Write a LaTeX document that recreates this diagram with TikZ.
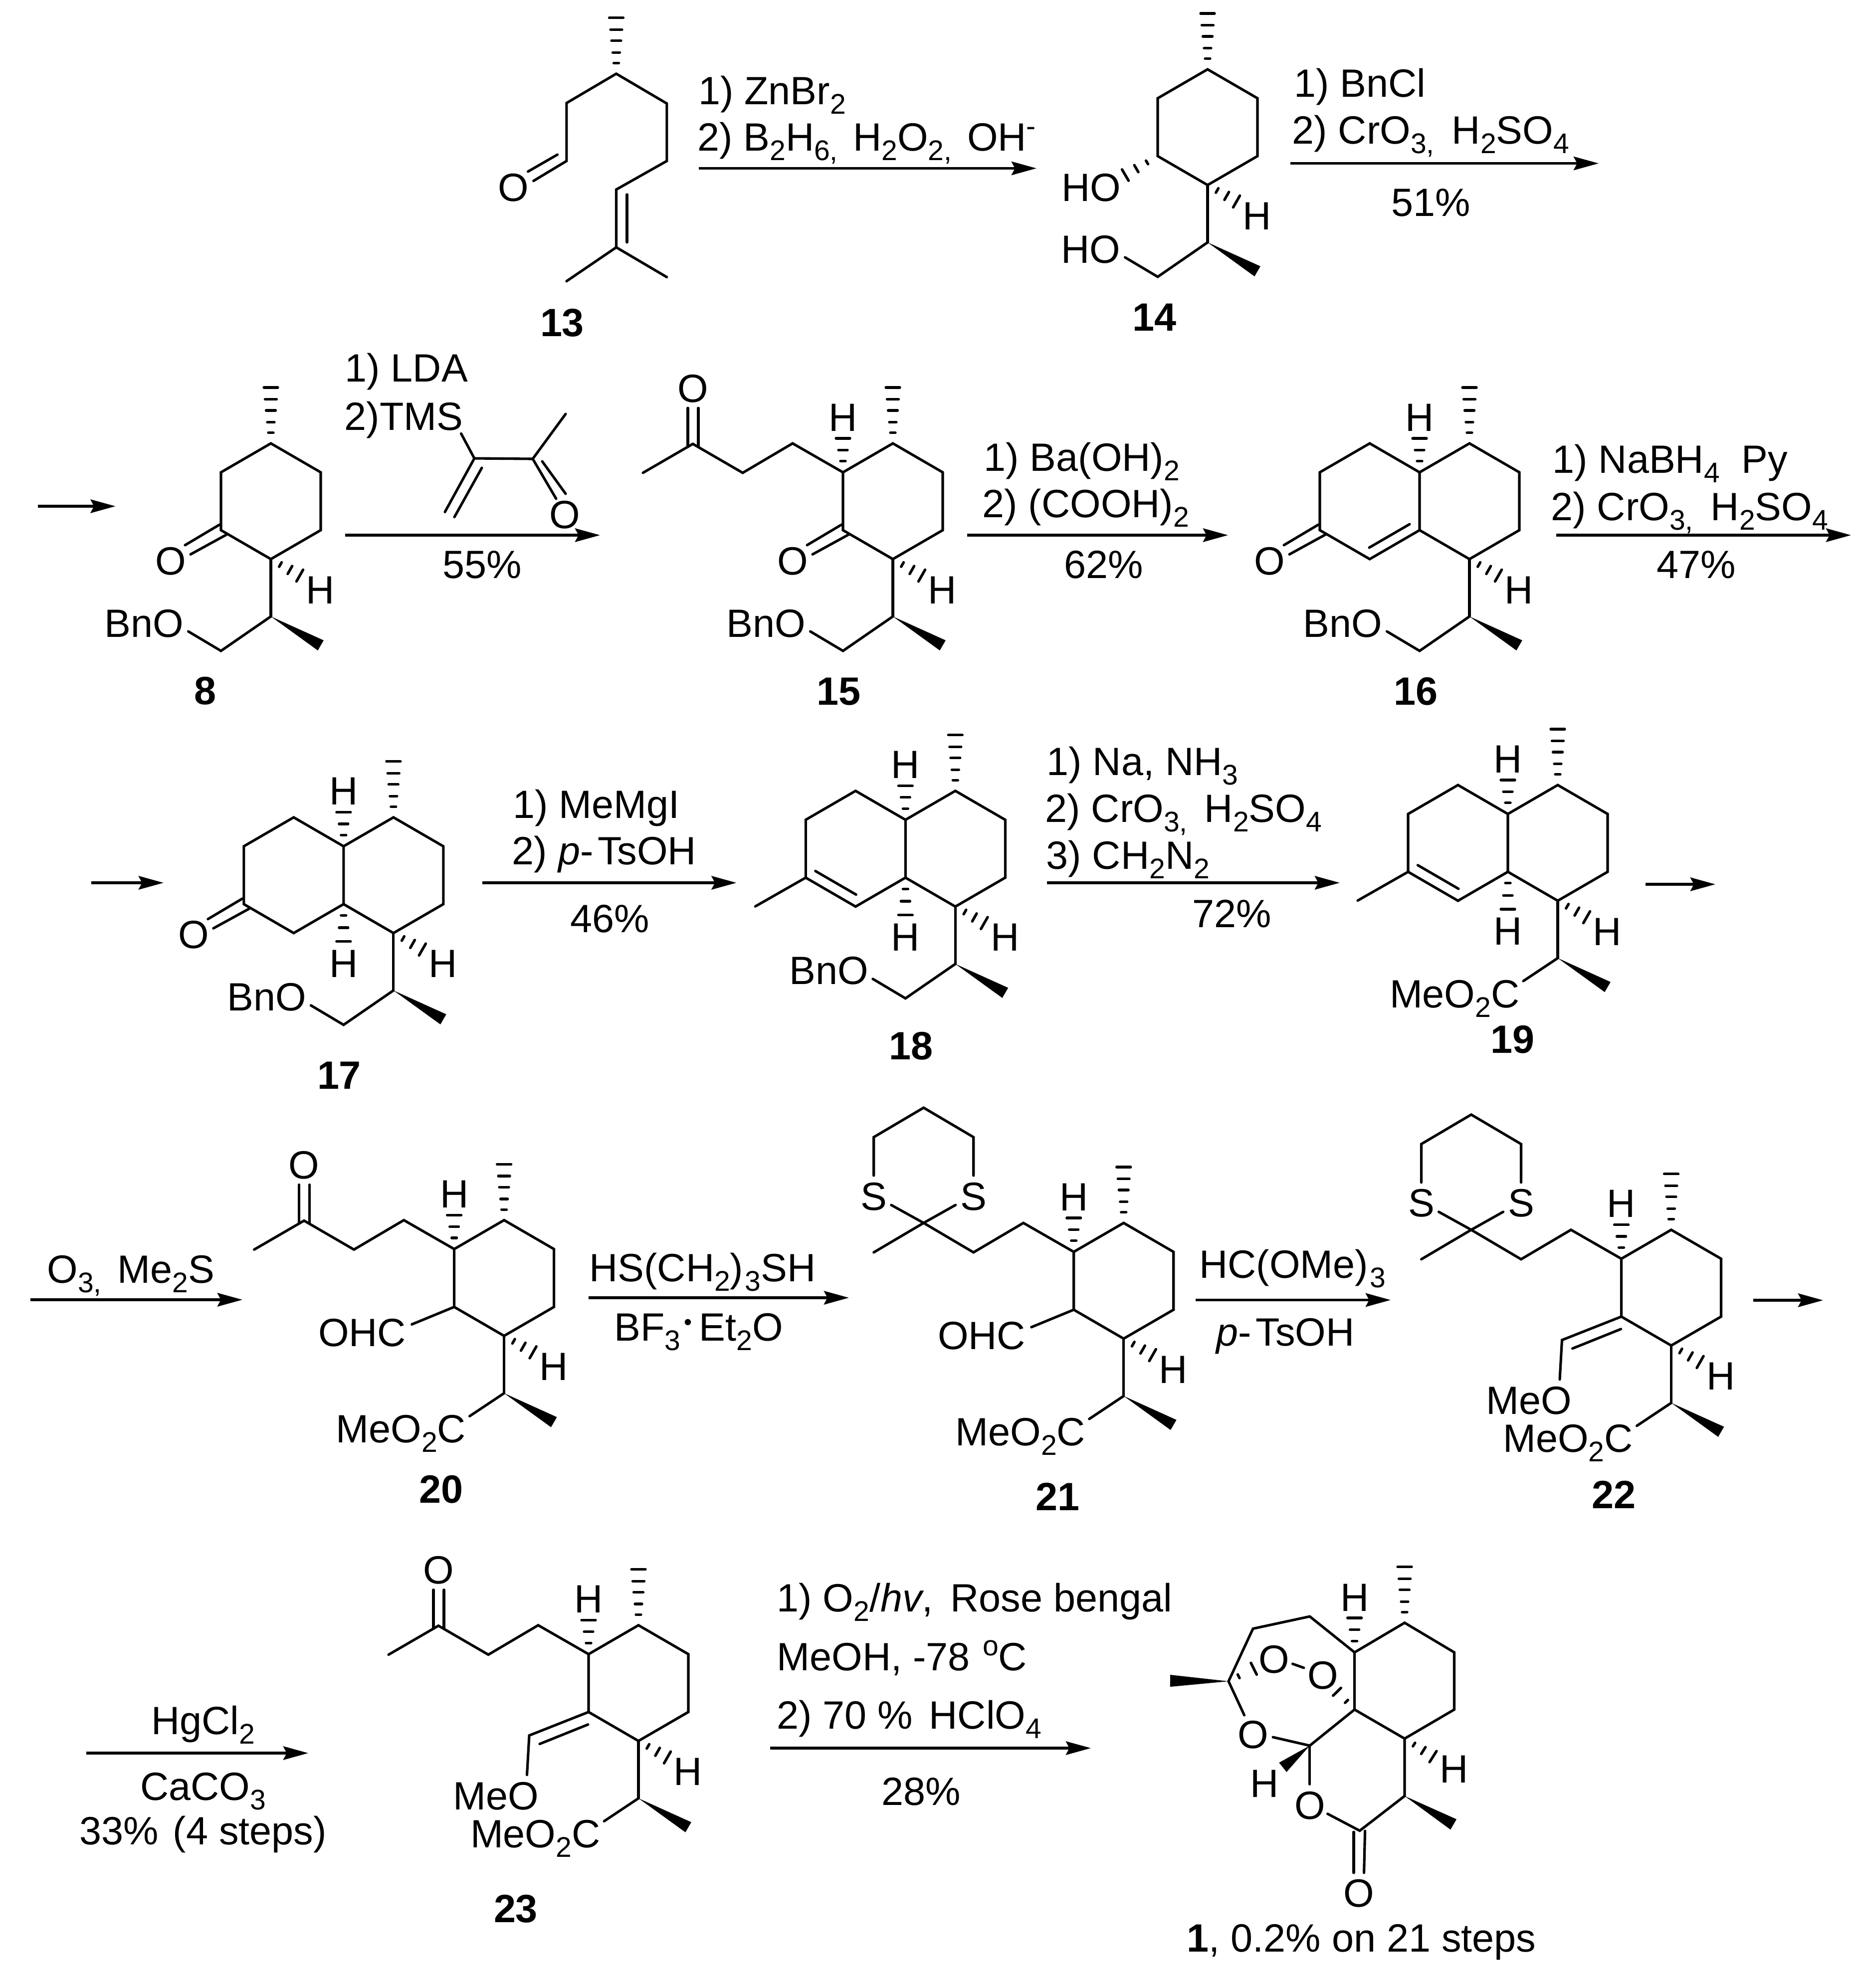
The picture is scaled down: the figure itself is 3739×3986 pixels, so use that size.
\documentclass[tikz,border=0pt]{standalone}
\usepackage{fontspec}
\setmainfont{Liberation Sans}
\usetikzlibrary{calc,arrows.meta}
\newcommand{\fzn}{\fontsize{22.5}{26}\selectfont}
\newcommand{\sbs}[1]{\raisebox{-5.4pt}{\fontsize{16.2}{16.2}\selectfont #1}}
\newcommand{\supo}{\raisebox{8.5pt}{\fontsize{16.2}{16.2}\selectfont o}}
\tikzset{
  bond/.style={line width=1.45pt,line cap=round,line join=miter,black},
  hashbar/.style={line width=1.5pt,line cap=round,black},
  rxn/.style={line width=1.55pt,-{Stealth[length=0.5cm,width=0.27cm,inset=0.07cm]},black},
  atom/.style={anchor=base,inner sep=0pt,font=\fzn},
  txt/.style={anchor=base west,inner sep=0pt,font=\fzn},
  txtr/.style={anchor=base east,inner sep=0pt,font=\fzn},
  cpd/.style={anchor=base,inner sep=0pt,font=\fzn\bfseries}
}
% #1 narrow end, #2 wide end, #3 list of position/half-width
\newcommand{\hashw}[3]{\foreach \tp/\hw in {#3}{%
  \path (#1) -- (#2) coordinate[pos=\tp] (hp);
  \draw[hashbar] ($(hp)!\hw*0.01cm!90:(#1)$) -- ($(hp)!\hw*0.01cm!-90:(#1)$);}}
\newcommand{\solidw}[3]{\fill[black] (#1) -- ($(#2)!#3*0.01cm!90:(#1)$) -- ($(#2)!#3*0.01cm!-90:(#1)$) -- cycle;}
\newcommand{\mHashMe}{\hashw{0,0}{0,-112}{.19/5,.38/7,.59/9.5,.79/11.5,1/14}}
\newcommand{\mRing}{%
  \draw[bond] (0,0)--(100,58)--(100,174)--(0,232)--(-100,174)--(-100,58)--cycle;
  \draw[bond] (0,232)--(0,347);
  \mHashMe
  \hashw{0,232}{58,265}{.33/5,.66/9,1/13.5}
  \solidw{0,347}{100,405}{11.7}
  \node[atom] (Hb) at (99.5,321) {H};}
\newcommand{\mEther}[1]{%
  \draw[bond] (0,347)--(-100,416)--(-165.5,377);
  \node[txtr] (Or) at (-174,388) {#1};}
\newcommand{\mEster}{%
  \draw[bond] (0,347)--(-69,393);
  \node[txtr] (Es) at (-76,446) {MeO\sbs{2}C};}
\newcommand{\mHup}{%
  \hashw{-100,58}{-100,-10}{.33/5,.66/9,1/14}
  \node[atom] (Hu) at (-100,-25) {H};}
\newcommand{\mHdown}{%
  \hashw{-100,174}{-100,249}{.3/5,.63/9,1/14}
  \node[atom] (Hd) at (-100,320.5) {H};}
\newcommand{\mCO}[1]{\begin{scope}[shift={(#1,0)}]
  \draw[bond] (-103,163)--(-172,204);
  \draw[bond] (-89,183)--(-161,222.5);
  \node[atom] (Ok) at (-201,263) {O};\end{scope}}
\newcommand{\mDec}{%
  \draw[bond] (-100,58)--(-200,0)--(-300,58)--(-300,174)--(-200,232)--(-100,174);}
\newcommand{\mKetChain}{%
  \draw[bond] (-100,58)--(-201,0)--(-301,59)--(-401,1)--(-501,59);
  \draw[bond] (-411,-71)--(-411,7);
  \draw[bond] (-390,-71)--(-390,7);
  \node[atom] (Ot) at (-401,-83) {O};}
\newcommand{\mDith}{%
  \draw[bond] (-100,58)--(-201,0)--(-301,59)--(-401,0)--(-501,59);
  \draw[bond] (-401,0)--(-466,-36);
  \draw[bond] (-401,0)--(-337,-36);
  \draw[bond] (-501,-95)--(-501,-172)--(-401,-231)--(-301,-172)--(-301,-95);
  \node[atom] (Sa) at (-501,-26) {S};
  \node[atom] (Sb) at (-301,-26) {S};}
\newcommand{\mOHC}{%
  \draw[bond] (-100,174)--(-185,209);
  \node[txtr] (Cho) at (-196,253) {OHC};}
\newcommand{\mVinyl}{%
  \draw[bond] (-100,174)--(-219,221)--(-223.5,300);
  \draw[bond] (-101,199)--(-198,238);
  \node[txtr] (Me) at (-199,369.5) {MeO};}
\newcommand{\mDecMe}{%
  \mDec
  \draw[bond] (-280.6,160.7)--(-199,208);
  \draw[bond] (-300,174)--(-401,231.6);}
\begin{document}
\begin{tikzpicture}[x=0.01cm,y=-0.01cm]
\useasboundingbox (0,0) rectangle (3739,3986);
\fill[white] (0,0) rectangle (3739,3986);

% ---------- 13
\begin{scope}[name prefix=c13-]
\draw[bond] (1235.5,147.8)--(1135.8,206.6)--(1135.8,322.8)--(1069.6,362.7);
\draw[bond] (1117.5,310)--(1058.5,344);
\draw[bond] (1235.5,147.8)--(1336.8,207.5)--(1336.8,322.8)--(1235.5,380)--(1235.5,495.9)--(1135.8,563.8);
\draw[bond] (1235.5,495.9)--(1336.8,555.6);
\draw[bond] (1257,390)--(1257,485.8);
\begin{scope}[shift={(1235.5,147.8)}]\mHashMe\end{scope}
\node[atom] (O) at (1029.7,403) {O};
\end{scope}
\node[cpd] (n13) at (1127,674) {13};

% ---------- 14
\begin{scope}[shift={(2421,139)},name prefix=c14-]
\mRing \mEther{HO}
\hashw{-100,174}{-165,212}{.33/4,.66/8,1/13}
\node[txtr] (OH) at (-173,264) {HO};
\end{scope}
\node[cpd] (n14) at (2314,663) {14};

% ---------- 8
\begin{scope}[shift={(543,889)},name prefix=c8-]
\mRing \mEther{BnO} \mCO{0}
\end{scope}
\node[cpd] (n8) at (411,1412) {8};

% ---------- 15
\begin{scope}[shift={(1790,889)},name prefix=c15-]
\mRing \mEther{BnO} \mCO{0} \mKetChain \mHup
\end{scope}
\node[cpd] (n15) at (1681,1413) {15};

% ---------- 16
\begin{scope}[shift={(2946,889)},name prefix=c16-]
\mRing \mEther{BnO} \mDec \mHup
\draw[bond] (-120,162)--(-201,209);
\mCO{-200}
\end{scope}
\node[cpd] (n16) at (2838,1413) {16};

% ---------- 17
\begin{scope}[shift={(788.8,1638.8)},name prefix=c17-]
\mRing \mEther{BnO} \mDec \mHup \mHdown \mCO{-200}
\end{scope}
\node[cpd] (n17) at (680,2183) {17};

% ---------- 18
\begin{scope}[shift={(1915.3,1585.7)},name prefix=c18-]
\mRing \mEther{BnO} \mDecMe \mHup \mHdown
\end{scope}
\node[cpd] (n18) at (1826.5,2124.5) {18};

% ---------- 19
\begin{scope}[shift={(3123,1574)},name prefix=c19-]
\mRing \mEster \mDecMe \mHup \mHdown
\end{scope}
\node[cpd] (n19) at (3032,2111) {19};

% ---------- 20
\begin{scope}[shift={(1010.6,2446.4)},name prefix=c20-]
\mRing \mEster \mKetChain \mHup \mOHC
\end{scope}
\node[cpd] (n20) at (884.6,3013.8) {20};

% ---------- 21
\begin{scope}[shift={(2252.7,2452)},name prefix=c21-]
\mRing \mEster \mDith \mHup \mOHC
\end{scope}
\node[cpd] (n21) at (2120,3028) {21};

% ---------- 22
\begin{scope}[shift={(3350.5,2465.8)},name prefix=c22-]
\mRing \mEster \mDith \mHup \mVinyl
\end{scope}
\node[cpd] (n22) at (3235.7,3024.5) {22};

% ---------- 23
\begin{scope}[shift={(1280,3258.6)},name prefix=c23-]
\mRing \mEster \mKetChain \mHup \mVinyl
\end{scope}
\node[cpd] (n23) at (1034,3854.5) {23};

% ---------- 1
\begin{scope}[name prefix=c1-]
\draw[bond] (2816,3253.7)--(2915.5,3313)--(2915.5,3427.7)--(2816,3485.9)--(2715.6,3427.7)--(2715.6,3313)--cycle;
\begin{scope}[shift={(2816,3253.7)}]\mHashMe\end{scope}
\hashw{2715.6,3313}{2715.6,3244}{.33/5,.66/9,1/14}
\node[atom] (Hu) at (2715.6,3230) {H};
\draw[bond] (2715.6,3313)--(2625.8,3241)--(2512,3265.5)--(2463,3371)--(2494.6,3439);
\solidw{2463,3371}{2346,3370}{12}
\node[atom] (Ob) at (2512,3505) {O};
\draw[bond] (2552,3483)--(2625.8,3500)--(2715.6,3427.7);
\draw[bond] (2625.8,3500)--(2625.8,3577.4);
\solidw{2625.8,3500}{2571.8,3543.5}{12}
\node[atom] (Hh) at (2535,3603) {H};
\node[atom] (Oe) at (2625.8,3647) {O};
\draw[bond] (2661.6,3636.7)--(2726,3670.6)--(2816,3601)--(2816,3485.9);
\hashw{2816,3485.9}{2873,3522}{.33/4,.66/8,1/13}
\node[atom] (Hr) at (2915.5,3574.6) {H};
\solidw{2816,3601}{2914,3658}{12}
\draw[bond] (2714,3673)--(2714,3755);
\draw[bond] (2736.6,3671)--(2734.6,3755);
\node[atom] (Oc) at (2724,3823) {O};
\hashw{2463,3371}{2513.6,3345.8}{.4/4,1/13}
\node[atom] (Op) at (2554,3354) {O};
\draw[bond] (2591.4,3336)--(2613.9,3344);
\node[atom] (Oq) at (2652.5,3386.4) {O};
\hashw{2715.6,3427.7}{2680.5,3392}{.46/4,1/11}
\end{scope}
\node[atom] (n1) at (2729.5,3913.6) {\textbf{1}, 0.2\% on 21 steps};

% ---------- vinyl ketone reagent
\begin{scope}[name prefix=r-]
\draw[bond] (924.5,869.4)--(951,919)--(1068,920)--(1134,830);
\draw[bond] (951,919)--(892,1026.5);
\draw[bond] (966,938)--(911,1036.7);
\draw[bond] (1068,920)--(1115,1000);
\draw[bond] (1087,925)--(1134,990);
\node[atom] (O) at (1132,1059) {O};
\end{scope}

% ---------- arrows
\coordinate (a1s) at (1401,337.5); \coordinate (a1e) at (2078,337.5);
\coordinate (a2s) at (2586.7,327.6); \coordinate (a2e) at (3205,327.6);
\coordinate (a3s) at (76,1015); \coordinate (a3e) at (231.6,1015);
\coordinate (a4s) at (692,1073); \coordinate (a4e) at (1203,1073);
\coordinate (a5s) at (1939,1073); \coordinate (a5e) at (2462,1073);
\coordinate (a6s) at (3120,1073); \coordinate (a6e) at (3711,1073);
\coordinate (a7s) at (183,1770); \coordinate (a7e) at (328,1770);
\coordinate (a8s) at (967,1770); \coordinate (a8e) at (1476.5,1770);
\coordinate (a9s) at (2099,1770); \coordinate (a9e) at (2686,1770);
\coordinate (a10s) at (3299,1773); \coordinate (a10e) at (3439,1773);
\coordinate (a11s) at (61,2606); \coordinate (a11e) at (486,2606);
\coordinate (a12s) at (1180,2602); \coordinate (a12e) at (1702,2602);
\coordinate (a13s) at (2397.4,2606.5); \coordinate (a13e) at (2788,2606.5);
\coordinate (a14s) at (3515,2607); \coordinate (a14e) at (3655,2607);
\coordinate (a15s) at (173,3515); \coordinate (a15e) at (618,3515);
\coordinate (a16s) at (1544,3505); \coordinate (a16e) at (2187,3505);
\foreach \k in {1,...,16}{\draw[rxn] (a\k s) -- (a\k e);}

% ---------- reagents
\node[txt] (t1) at (1399.5,209) {1) ZnBr\sbs{2}};
\node[txt] (t2) at (1397.5,302) {2) B\sbs{2}H\sbs{6,}\hspace{2.5pt} H\sbs{2}O\sbs{2,}\hspace{2.5pt} OH\raisebox{8.5pt}{\fontsize{16.2}{16.2}\selectfont -}};
\node[txt] (t3) at (2593.5,194) {1) BnCl};
\node[txt] (t4) at (2590,288) {2) CrO\sbs{3,}\hspace{3.8pt} H\sbs{2}SO\sbs{4}};
\node[atom] (t5) at (2869,433.7) {51\%};
\node[txt] (t6) at (691,765) {1) LDA};
\node[txt] (t7) at (690,862) {2)TMS};
\node[atom] (t8) at (967,1159) {55\%};
\node[txt] (t9) at (1972,944) {1) Ba(OH)\sbs{2}};
\node[txt] (t10) at (1969,1037) {2) (COOH)\sbs{2}};
\node[atom] (t11) at (2213,1159) {62\%};
\node[txt] (t12) at (3112,948.5) {1) NaBH\sbs{4}\ \ Py};
\node[txt] (t13) at (3109,1043) {2) CrO\sbs{3,}\hspace{3.8pt} H\sbs{2}SO\sbs{4}};
\node[atom] (t14) at (3401,1159) {47\%};
\node[txt] (t15) at (1028,1640) {1) MeMgI};
\node[txt] (t16) at (1026,1733) {2) \textit{p}-\hspace{2.5pt}TsOH};
\node[atom] (t17) at (1223,1869) {46\%};
\node[txt] (t18) at (2098,1554.6) {1) Na, NH\sbs{3}};
\node[txt] (t19) at (2095,1648) {2) CrO\sbs{3,}\hspace{3.5pt} H\sbs{2}SO\sbs{4}};
\node[txt] (t20) at (2097,1742) {3) CH\sbs{2}N\sbs{2}};
\node[atom] (t21) at (2470,1859) {72\%};
\node[txt] (t22) at (94,2572) {O\sbs{3,}\hspace{2.9pt} Me\sbs{2}S};
\node[txt] (t23) at (1181,2569) {HS(CH\sbs{2})\hspace{1pt}\sbs{3}SH};
\node[txt] (t24) at (1231,2688) {BF\sbs{3}\hspace{2pt}\raisebox{6pt}{\fontsize{13}{13}\selectfont\textbullet}\hspace{4pt}Et\sbs{2}O};
\node[txt] (t25) at (2404,2562) {HC(OMe)\hspace{1pt}\sbs{3}};
\node[txt] (t26) at (2437.6,2698) {\textit{p}-\hspace{2.5pt}TsOH};
\node[atom] (t27) at (407,3477) {HgCl\sbs{2}};
\node[atom] (t28) at (407,3609) {CaCO\sbs{3}};
\node[atom] (t29) at (407,3698) {33\%\hspace{2pt} (4 steps)};
\node[txt] (t30) at (1557,3231) {1) O\sbs{2}/\textit{hv},\hspace{3.6pt} Rose bengal};
\node[txt] (t31) at (1557,3349) {MeOH, -78 \hspace{1pt}\supo C};
\node[txt] (t32) at (1557,3466) {2) 70 \%\hspace{3pt} HClO\sbs{4}};
\node[atom] (t33) at (1847,3619) {28\%};
\end{tikzpicture}
\end{document}
